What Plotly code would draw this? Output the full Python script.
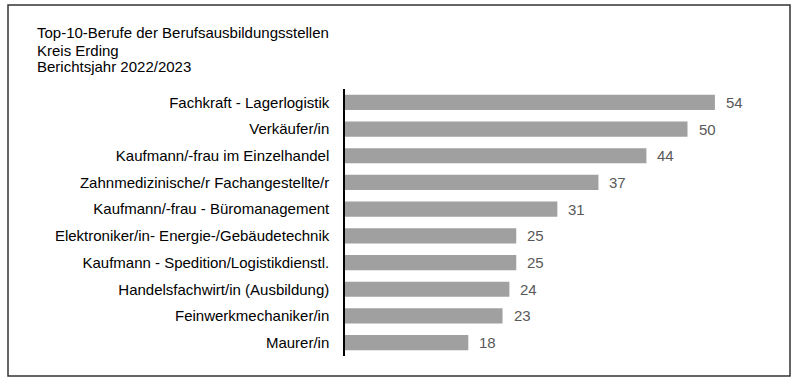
import plotly.graph_objects as go

title_lines = ["Top-10-Berufe der Berufsausbildungsstellen", "Kreis Erding", "Berichtsjahr 2022/2023"]
categories = [
    "Fachkraft - Lagerlogistik",
    "Verkäufer/in",
    "Kaufmann/-frau im Einzelhandel",
    "Zahnmedizinische/r Fachangestellte/r",
    "Kaufmann/-frau - Büromanagement",
    "Elektroniker/in- Energie-/Gebäudetechnik",
    "Kaufmann - Spedition/Logistikdienstl.",
    "Handelsfachwirt/in (Ausbildung)",
    "Feinwerkmechaniker/in",
    "Maurer/in",
]
values = [54, 50, 44, 37, 31, 25, 25, 24, 23, 18]

W, H = 800, 385
L, R, T, B = 345, 15, 89, 29
pw, ph = W - L - R, H - T - B

def px(x):
    return (x - L) / pw

def py(y):
    return (H - B - y) / ph

FONT = "Liberation Sans, Arial, sans-serif"

fig = go.Figure(go.Bar(
    x=values, y=categories, orientation="h",
    marker=dict(color="#a0a0a0", line=dict(width=0)),
    width=0.57, hoverinfo="skip",
))

annotations = []
for v, c in zip(values, categories):
    annotations.append(dict(x=v, y=c, xref="x", yref="y", text=str(v), showarrow=False,
                            xanchor="left", xshift=9, font=dict(family=FONT, size=15, color="#595959")))
for i, (t, yy) in enumerate(zip(title_lines, [33, 50, 66])):
    annotations.append(dict(x=px(35), y=py(yy), xref="paper", yref="paper", text=t, showarrow=False,
                            xanchor="left", yanchor="middle", font=dict(family=FONT, size=15, color="#000000")))

fig.update_layout(
    width=W, height=H,
    margin=dict(l=L, r=R, t=T, b=B, autoexpand=False),
    paper_bgcolor="white", plot_bgcolor="white",
    showlegend=False,
    xaxis=dict(range=[0, pw / 6.85], visible=False, showgrid=False, zeroline=False, fixedrange=True),
    yaxis=dict(autorange="reversed", showgrid=False, zeroline=False, showline=True, fixedrange=True,
               linecolor="#000000", linewidth=1.5, ticks="", ticklabelstandoff=11,
               tickfont=dict(family=FONT, size=15, color="#000000")),
    annotations=annotations,
    shapes=[dict(type="rect", xref="paper", yref="paper",
                 x0=px(8), x1=px(790), y0=py(376), y1=py(5),
                 line=dict(color="#333333", width=1.5))],
)

fig.write_html("out.html", config={"displayModeBar": False},
               post_script="document.body.style.margin='0';")
